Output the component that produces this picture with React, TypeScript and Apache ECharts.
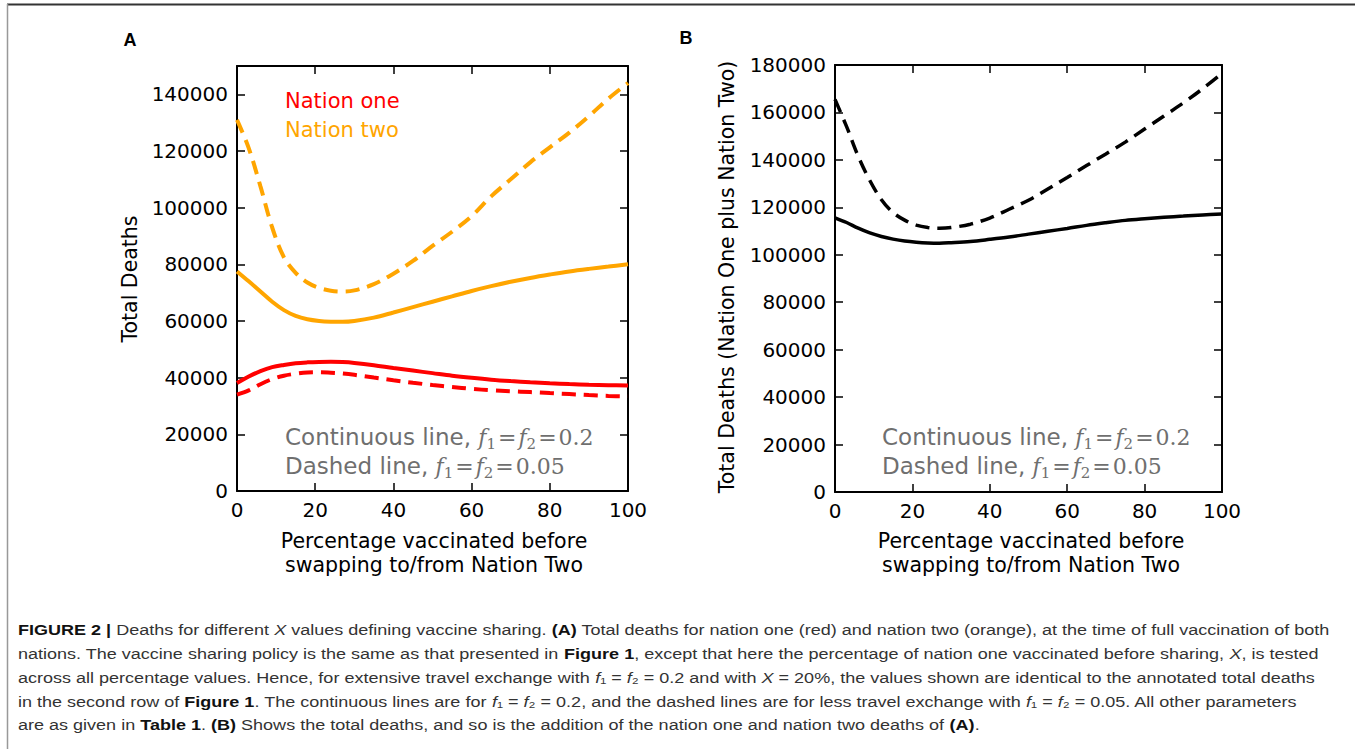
import React, { useEffect, useRef } from "react";
import * as echarts from "echarts";

// ---------- data ----------
const xPct = [0, 3, 6, 9, 12, 15, 18, 21, 24, 27, 30, 35, 40, 45, 50, 55, 60, 65, 70, 75, 80, 85, 90, 95, 100];

// Panel A, nation one (red)
const nationOneCont = [38100, 40400, 42300, 43700, 44500, 45100, 45400, 45550, 45600, 45500, 45200, 44400, 43400, 42500, 41600, 40700, 39950, 39300, 38800, 38400, 38050, 37750, 37500, 37350, 37200];
const nationOneDash = [34000, 35500, 37700, 39500, 40700, 41400, 41850, 41950, 41750, 41450, 41000, 40050, 39100, 38200, 37400, 36700, 36050, 35550, 35200, 34900, 34550, 34200, 33850, 33550, 33400];
// Panel A, nation two (orange)
const nationTwoCont = [77500, 74000, 70400, 66800, 63840, 61800, 60600, 60000, 59750, 59700, 60000, 61200, 63000, 64900, 66800, 68700, 70600, 72300, 73850, 75200, 76400, 77500, 78400, 79200, 80000];
const nationTwoDash = [131000, 121000, 107500, 93000, 82500, 77000, 73600, 71700, 70700, 70400, 70800, 73000, 76700, 81200, 86500, 91500, 97000, 104000, 110000, 116000, 121300, 126500, 132300, 138500, 144000];
// Panel B, total (black)
const totalCont = [115600, 113600, 111200, 109200, 107700, 106600, 105800, 105300, 105000, 104900, 105100, 105600, 106500, 107500, 108700, 109900, 111100, 112400, 113500, 114500, 115200, 115800, 116300, 116800, 117200];
const totalDash = [165500, 154000, 141500, 131300, 123200, 117800, 114600, 112500, 111500, 111200, 111500, 112900, 115500, 119200, 123000, 127700, 132600, 137600, 142500, 147500, 153000, 158500, 164000, 170000, 176500];

const yMaxA = 150000;
const yMaxB = 180000;
const yStep = 20000;
const xStep = 20;

const captionLines = [
  "{b|FIGURE 2 |}{n| Deaths for different }{i|X}{n| values defining vaccine sharing. }{b|(A)}{n| Total deaths for nation one (red) and nation two (orange), at the time of full vaccination of both}",
  "{n|nations. The vaccine sharing policy is the same as that presented in }{b|Figure 1}{n|, except that here the percentage of nation one vaccinated before sharing, }{i|X}{n|, is tested}",
  "{n|across all percentage values. Hence, for extensive travel exchange with }{i|f}{n|₁ = }{i|f}{n|₂ = 0.2 and with }{i|X}{n| = 20%, the values shown are identical to the annotated total deaths}",
  "{n|in the second row of }{b|Figure 1}{n|. The continuous lines are for }{i|f}{n|₁ = }{i|f}{n|₂ = 0.2, and the dashed lines are for less travel exchange with }{i|f}{n|₁ = }{i|f}{n|₂ = 0.05. All other parameters}",
  "{n|are as given in }{b|Table 1}{n|. }{b|(B)}{n| Shows the total deaths, and so is the addition of the nation one and nation two deaths of }{b|(A)}{n|.}",
];

const SANS = "'DejaVu Sans', sans-serif";
const CAP = "'Liberation Sans', Arial, sans-serif";
const CAP_SIZE = 15.5;

function measureRich(str: string): number {
  const ctx = document.createElement("canvas").getContext("2d");
  if (!ctx) return 1;
  const re = /\{(\w+)\|([^}]*)\}/g;
  let m: RegExpExecArray | null;
  let w = 0;
  while ((m = re.exec(str))) {
    const k = m[1];
    const f = k === "b" ? "bold " : k === "i" ? "italic " : "";
    ctx.font = `${f}${CAP_SIZE}px "Liberation Sans", Arial, sans-serif`;
    w += ctx.measureText(m[2]).width;
  }
  return w;
}

function buildAxes(gridIndex: number, yMax: number, showMax: boolean) {
  const tick = { show: true, inside: true, length: 8, lineStyle: { color: "#000", width: 1.5 } };
  const line = { show: true, onZero: false, lineStyle: { color: "#000", width: 2 } };
  const lbl = { fontSize: 20, color: "#000", fontFamily: SANS, margin: 9, formatter: (v: number) => String(v) };
  const x = [
    { gridIndex, type: "value", min: 0, max: 100, interval: xStep, axisLine: line, axisTick: tick, axisLabel: lbl, splitLine: { show: false } },
    { gridIndex, type: "value", position: "top", min: 0, max: 100, interval: xStep, axisLine: line, axisTick: tick, axisLabel: { show: false }, splitLine: { show: false } },
  ];
  const y = [
    { gridIndex, type: "value", min: 0, max: yMax, interval: yStep, axisLine: line, axisTick: tick, axisLabel: { ...lbl, showMaxLabel: showMax }, splitLine: { show: false } },
    { gridIndex, type: "value", position: "right", min: 0, max: yMax, interval: yStep, axisLine: line, axisTick: tick, axisLabel: { show: false }, splitLine: { show: false } },
  ];
  return { x, y };
}

function lineSeries(vals: number[], color: string, dashed: boolean, xi: number, yi: number, width: number) {
  return {
    type: "line",
    xAxisIndex: xi,
    yAxisIndex: yi,
    data: xPct.map((x, i) => [x, vals[i]]),
    smooth: 0.35,
    showSymbol: false,
    symbol: "none",
    clip: true,
    lineStyle: { color, width, type: dashed ? [14, 8] : "solid", cap: "butt" },
  };
}

function mathAnno(x: number, y: number, label: string, val: string) {
  return {
    type: "text",
    x,
    y,
    style: {
      text: `{t|${label}}{m|f}{s|1}{e|=}{m|f}{s|2}{e|=}{r|${val}}`,
      verticalAlign: "middle",
      align: "left",
      rich: {
        t: { fontFamily: SANS, fontSize: 23, fill: "#6f6f6f", lineHeight: 28 },
        m: { fontFamily: "'DejaVu Serif', serif", fontStyle: "italic", fontSize: 22, fill: "#6f6f6f", lineHeight: 28 },
        s: { fontFamily: "'DejaVu Serif', serif", fontSize: 15, fill: "#6f6f6f", lineHeight: 14, verticalAlign: "bottom" },
        e: { fontFamily: "'DejaVu Serif', serif", fontSize: 22, fill: "#6f6f6f", lineHeight: 28, padding: [0, 2, 0, 2] },
        r: { fontFamily: "'DejaVu Serif', serif", fontSize: 22, fill: "#6f6f6f", lineHeight: 28 },
      },
    },
  };
}

export default function App() {
  const ref = useRef<HTMLDivElement>(null);
  useEffect(() => {
    if (!ref.current) return;
    const chart = echarts.init(ref.current, null, { renderer: "svg" });
    const a = buildAxes(0, yMaxA, false);
    const b = buildAxes(1, yMaxB, true);

    const scale = 1312 / measureRich(captionLines[0]);
    const capRich = {
      n: { fontFamily: CAP, fontSize: CAP_SIZE, fill: "#333" },
      b: { fontFamily: CAP, fontSize: CAP_SIZE, fontWeight: "bold", fill: "#111" },
      i: { fontFamily: CAP, fontSize: CAP_SIZE, fontStyle: "italic", fill: "#333" },
    };
    const captionY = [630, 654, 678, 702, 725];
    const caption = captionLines.map((t, i) => ({
      type: "text",
      x: 18,
      y: captionY[i],
      scaleX: scale,
      style: { text: t, rich: capRich, verticalAlign: "middle", align: "left" },
    }));

    const txt = (text: string, x: number, y: number, extra: any = {}, rot = 0) => ({
      type: "text",
      x,
      y,
      rotation: rot,
      style: { text, fontFamily: SANS, fontSize: 20.5, fill: "#000", align: "center", verticalAlign: "middle", ...extra },
    });

    chart.setOption({
      animation: false,
      backgroundColor: "#fff",
      grid: [
        { left: 237, top: 66, width: 391, height: 425, show: false },
        { left: 835, top: 65, width: 387, height: 427, show: false },
      ],
      xAxis: [...a.x, ...b.x],
      yAxis: [...a.y, ...b.y],
      series: [
        lineSeries(nationTwoDash, "#ffa500", true, 0, 0, 4),
        lineSeries(nationTwoCont, "#ffa500", false, 0, 0, 4),
        lineSeries(nationOneDash, "#ff0000", true, 0, 0, 4),
        lineSeries(nationOneCont, "#ff0000", false, 0, 0, 4),
        lineSeries(totalDash, "#000000", true, 2, 2, 3.5),
        lineSeries(totalCont, "#000000", false, 2, 2, 3.5),
      ],
      graphic: [
        { type: "line", shape: { x1: 7, y1: 4.5, x2: 1355, y2: 4.5 }, style: { stroke: "#333", lineWidth: 2 } },
        { type: "line", shape: { x1: 7.5, y1: 4, x2: 7.5, y2: 749 }, style: { stroke: "#999", lineWidth: 1.5 } },
        txt("A", 130, 40, { fontFamily: CAP, fontWeight: "bold", fontSize: 18 }),
        txt("B", 686, 38, { fontFamily: CAP, fontWeight: "bold", fontSize: 18 }),
        txt("Total Deaths", 130, 279, {}, Math.PI / 2),
        txt("Total Deaths (Nation One plus Nation Two)", 727, 277, {}, Math.PI / 2),
        txt("Percentage vaccinated before", 434, 541),
        txt("swapping to/from Nation Two", 434, 565),
        txt("Percentage vaccinated before", 1031, 541),
        txt("swapping to/from Nation Two", 1031, 565),
        txt("Nation one", 285, 101, { align: "left", fill: "#ff0000", fontSize: 21 }),
        txt("Nation two", 285, 130, { align: "left", fill: "#ffa500", fontSize: 21 }),
        mathAnno(285, 437, "Continuous line, ", "0.2"),
        mathAnno(285, 466, "Dashed line, ", "0.05"),
        mathAnno(882, 437, "Continuous line, ", "0.2"),
        mathAnno(882, 466, "Dashed line, ", "0.05"),
        ...caption,
      ],
    });
    return () => chart.dispose();
  }, []);
  return <div ref={ref} style={{ position: "absolute", left: 0, top: 0, width: 1355, height: 749 }} />;
}
